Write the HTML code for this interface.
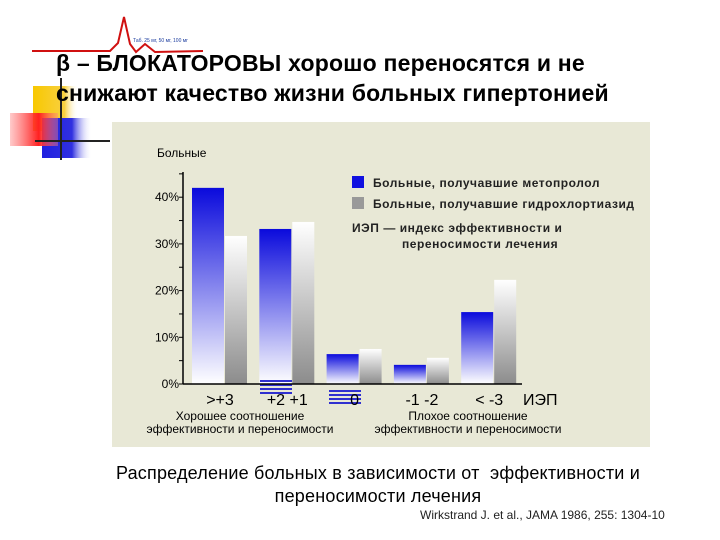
<!DOCTYPE html>
<html><head><meta charset="utf-8">
<style>
body{margin:0;width:720px;height:540px;overflow:hidden;background:#fff;font-family:"Liberation Sans","Noto Sans CJK SC",sans-serif;position:relative}
.t{position:absolute;white-space:nowrap}
</style></head><body>
<svg width="720" height="540" style="position:absolute;left:0;top:0">
<defs>
<linearGradient id="red" x1="0" x2="1"><stop offset="0" stop-color="#ff5050" stop-opacity=".3"/><stop offset=".6" stop-color="#ff2020"/><stop offset="1" stop-color="#ff8080" stop-opacity=".4"/></linearGradient>
<linearGradient id="bl" x1="0" x2="1"><stop offset="0" stop-color="#2020e0"/><stop offset=".6" stop-color="#3030e0"/><stop offset="1" stop-color="#fff" stop-opacity="0"/></linearGradient>
<linearGradient id="ye" x1="0" x2="1"><stop offset="0" stop-color="#f8c800"/><stop offset=".7" stop-color="#f8d040"/><stop offset="1" stop-color="#fff" stop-opacity="0"/></linearGradient>
<linearGradient id="blueBar" x1="0" y1="0" x2="0" y2="1"><stop offset="0" stop-color="#0a0adc"/><stop offset="1" stop-color="#ffffff"/></linearGradient>
<linearGradient id="grayBar" x1="0" y1="0" x2="0" y2="1"><stop offset="0" stop-color="#ffffff"/><stop offset="1" stop-color="#8c8c8c"/></linearGradient>
</defs>
<rect x="33" y="86" width="45" height="45" fill="url(#ye)"/>
<rect x="42" y="118" width="50" height="40" fill="url(#bl)"/>
<rect x="10" y="113" width="48" height="33" fill="url(#red)"/>
<line x1="61" y1="78" x2="61" y2="160" stroke="#222" stroke-width="2"/>
<line x1="35" y1="141" x2="110" y2="141" stroke="#222" stroke-width="2"/>
<polyline points="32,51 110,51 118,43 124,17 130,44 136,52 145,44 155,52 203,51" fill="none" stroke="#d01010" stroke-width="2"/>
<text x="133" y="42" font-size="5" fill="#2040a0">Таб. 25 мг, 50 мг, 100 мг</text>
</svg>
<div class="t" style="left:56px;top:48px;font-size:23px;letter-spacing:0.2px;font-weight:bold;line-height:30px">β – БЛОКАТОРОВЫ хорошо переносятся и не<br>снижают качество жизни больных гипертонией</div>
<svg width="720" height="540" style="position:absolute;left:0;top:0">
<rect x="112" y="122" width="538" height="325" fill="#e8e8d6"/>
<g id="bars"></g><g id="axis"></g>
</svg>
<div class="t" style="left:0;width:756px;text-align:center;top:462px;font-size:18px;line-height:23px;letter-spacing:0.2px">Распределение больных в зависимости от &nbsp;эффективности и<br>переносимости лечения</div>
<div class="t" style="left:420px;top:508px;font-size:12px;color:#222">Wirkstrand J. et al., JAMA 1986, 255: 1304-10</div>
<script>
const categories=[">+3","+2 +1","0","-1 -2","< -3"];
const metoprolol=[42,33.2,6.4,4.1,15.4];
const hctz=[31.7,34.7,7.5,5.6,22.3];
const yTicks=[0,10,20,30,40];
const NS="http://www.w3.org/2000/svg";
const x0=183,x1=522,y0=384,pxPer=4.67;
const y=v=>y0-v*pxPer;
const gx=i=>192+i*67.3;
function mk(t,a,p){const e=document.createElementNS(NS,t);for(const k in a)e.setAttribute(k,a[k]);p.appendChild(e);return e;}
const bars=document.getElementById('bars'),ax=document.getElementById('axis');
categories.forEach((c,i)=>{
 const b=mk('rect',{x:gx(i),y:y(metoprolol[i]),width:32,height:y0-y(metoprolol[i]),fill:'url(#blueBar)'},bars);
 
 
 const g=mk('rect',{x:gx(i)+33,y:y(hctz[i]),width:22,height:y0-y(hctz[i]),fill:'url(#grayBar)'},bars);
 
 
 const t=mk('text',{x:gx(i)+28,y:405,'font-size':16,'text-anchor':'middle'},ax);t.textContent=c;
 
 
});
for(let k=0;k<4;k++){mk('rect',{x:260,y:380+k*4,width:32,height:2,fill:'#3030d0'},bars);mk('rect',{x:329,y:390+k*4,width:32,height:2,fill:'#3030d0'},bars);}
mk('line',{x1:x0,y1:y0,x2:x1,y2:y0,stroke:'#000','stroke-width':1.5},ax);
mk('line',{x1:x0,y1:172,x2:x0,y2:y0,stroke:'#000','stroke-width':1.5},ax);
for(let v=0;v<=45;v+=5){mk('line',{x1:x0-4,y1:y(v),x2:x0,y2:y(v),stroke:'#000'},ax);}
yTicks.forEach(v=>{const t=mk('text',{x:179,y:y(v)+4,'font-size':12,'text-anchor':'end'},ax);t.textContent=v+'%';
 
 });
function txt(x,yy,s,sz,ext){const t=mk('text',Object.assign({x:x,y:yy,'font-size':sz},ext||{}),ax);t.textContent=s;return t;}
txt(157,157,'Больные',12);
txt(523,405,'ИЭП',16);
txt(240,420,'Хорошее соотношение',12,{'text-anchor':'middle'});
txt(240,433,'эффективности и переносимости',12,{'text-anchor':'middle'});
txt(468,420,'Плохое соотношение',12,{'text-anchor':'middle'});
txt(468,433,'эффективности и переносимости',12,{'text-anchor':'middle'});
mk('rect',{x:352,y:176,width:12,height:12,fill:'#1010e0'},ax);
mk('rect',{x:352,y:197,width:12,height:12,fill:'#999'},ax);
const lg={'font-weight':'bold','fill':'#222','letter-spacing':'0.55'};
txt(373,187,'Больные, получавшие метопролол',12,lg);
txt(373,208,'Больные, получавшие гидрохлортиазид',12,lg);
txt(352,232,'ИЭП — индекс эффективности и',12,lg);
txt(402,248,'переносимости лечения',12,lg);
</script>
</body></html>
